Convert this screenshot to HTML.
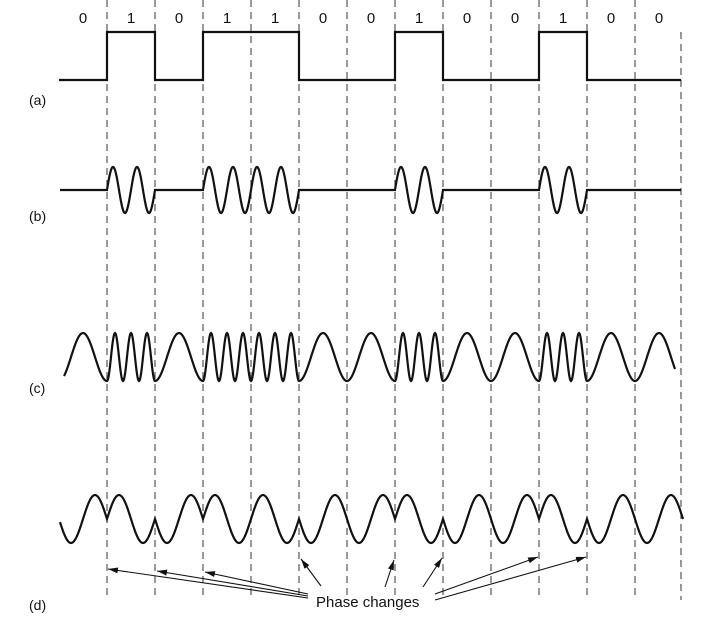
<!DOCTYPE html>
<html><head><meta charset="utf-8"><style>
html,body{margin:0;padding:0;background:#fff}
svg{display:block}
text{font-family:"Liberation Sans",sans-serif;fill:#111}
</style></head><body>
<svg id="s" width="721" height="641" viewBox="0 0 721 641" xmlns="http://www.w3.org/2000/svg">
<defs><marker id="ah" markerWidth="10" markerHeight="6" refX="10" refY="3" orient="auto" markerUnits="userSpaceOnUse"><path d="M0,0 L10,3 L0,6 z" fill="#111"/></marker></defs>
<g id="dash" stroke="#555" stroke-width="1.2" stroke-dasharray="7,5"></g>
<g id="waves" fill="none" stroke="#111" stroke-width="2.2"></g>
<g font-size="14">
<text x="29" y="105">(a)</text><text x="29" y="221">(b)</text><text x="29" y="393">(c)</text><text x="29" y="610">(d)</text>
</g>
<g id="bits" font-size="15" text-anchor="middle"></g>
<g stroke="#111" stroke-width="1.1" marker-end="url(#ah)">
<line x1="308" y1="598" x2="108" y2="569"/>
<line x1="308" y1="596" x2="157" y2="571"/>
<line x1="308" y1="594" x2="205" y2="572"/>
<line x1="321" y1="586" x2="301" y2="559"/>
<line x1="385" y1="587" x2="394" y2="560"/>
<line x1="423" y1="587" x2="442" y2="558"/>
<line x1="435" y1="594" x2="538" y2="557"/>
<line x1="435" y1="600" x2="586" y2="557"/>
</g>
<text x="316" y="607" font-size="15">Phase changes</text>
</svg>
<script>
var bits=[0,1,0,1,1,0,0,1,0,0,1,0,0],x0=59,w=48,NS="http://www.w3.org/2000/svg";
function el(t,a,p){var e=document.createElementNS(NS,t);for(var k in a)e.setAttribute(k,a[k]);document.getElementById(p).appendChild(e);return e;}
for(var i=0;i<13;i++){var s=x0+i*w;el("text",{x:s+24,y:23},"bits").textContent=bits[i];
 if(i>0){var top=(bits[i]||bits[i-1])?(bits[i]&&bits[i-1]?32:82):32;el("line",{x1:s,y1:top,x2:s,y2:600},"dash");}}
el("line",{x1:681,y1:32,x2:681,y2:600},"dash");
var d="M"+(x0+1)+","+(bits[0]?32:80);
for(var i=0;i<13;i++){var s=x0+i*w,y=bits[i]?32:80;d+=" L"+s+","+y+" L"+Math.min(681,s+w)+","+y;}
el("path",{d:d},"waves");
d="";for(var x=x0+1;x<=681;x+=0.5){var i=Math.min(12,Math.floor((x-x0)/w)),t=x-x0-i*w,y=190;if(bits[i])y=190-23*Math.sin(2*Math.PI*2*t/w);d+=(d?" L":"M")+x+","+y.toFixed(2);}
el("path",{d:d},"waves");
d="";for(var x=64;x<=675;x+=0.5){var i=Math.min(12,Math.floor((x-x0)/w)),t=x-x0-i*w,f=bits[i]?3:1,y=357+24*Math.cos(2*Math.PI*f*t/w);d+=(d?" L":"M")+x+","+y.toFixed(2);}
el("path",{d:d},"waves");
d="";for(var x=60;x<=683;x+=0.5){var i=Math.min(12,Math.floor((x-x0)/w)),t=x-x0-i*w;var s2=1;for(var k=1;k<=i;k++)if(bits[k]!=bits[k-1])s2=-s2;var y=519+24*s2*Math.sin(2*Math.PI*t/w);d+=(d?" L":"M")+x+","+y.toFixed(2);}
el("path",{d:d},"waves");
</script>
</body></html>
